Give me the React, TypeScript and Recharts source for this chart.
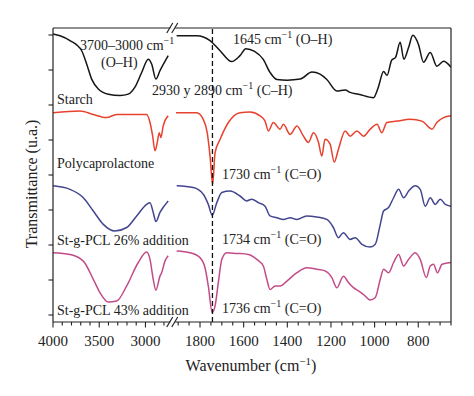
import React from 'react';
import { LineChart, Line, XAxis, YAxis, ReferenceLine } from 'recharts';

// ---------- data (wavenumber cm^-1, transmittance a.u. with vertical offsets) ----------
const starchLeft: [number, number][] = [
  [4000, 80.3], [3924, 79.8], [3816, 78.4], [3690, 75.5], [3636, 71.7], [3582, 67.4], [3510, 64.6],
  [3402, 63.1], [3276, 62.7], [3186, 63.1], [3114, 65.1], [3041, 69.3], [2970, 73.1], [2933, 71.7],
  [2887, 67.4], [2843, 69.8], [2754, 74.1],
];
const starchRight: [number, number][] = [
  [1907, 79.8], [1815, 79.8], [1754, 78.4], [1708, 75.5], [1655, 72.4], [1617, 74.1], [1590, 76.1],
  [1550, 75.3], [1511, 73.1], [1479, 69.3], [1448, 67.3], [1400, 67.1], [1341, 67.4], [1287, 69.4],
  [1250, 68.8], [1219, 67.3], [1173, 64.0], [1135, 64.3], [1112, 63.6], [1074, 63.1], [1005, 62.1],
  [983, 65.1], [959, 69.6], [943, 68.5], [922, 72.8], [904, 73.6], [883, 77.9], [866, 73.1],
  [844, 76.5], [825, 79.9], [799, 77.3], [776, 72.2], [745, 75.0], [715, 71.1], [684, 72.5], [650, 70.8],
];
const pclLeft: [number, number][] = [
  [4000, 57.8], [3708, 58.3], [3564, 57.3], [3420, 56.4], [3311, 57.3], [2987, 57.3], [2951, 55.0],
  [2922, 51.1], [2897, 46.9], [2872, 49.3], [2851, 52.1], [2833, 50.7], [2808, 54.0], [2754, 56.9],
];
const pclRight: [number, number][] = [
  [1910, 57.8], [1815, 57.8], [1785, 55.9], [1767, 52.1], [1754, 45.4], [1742, 37.3], [1731, 46.4],
  [1708, 50.2], [1670, 55.0], [1617, 57.8], [1571, 58.0], [1525, 56.9], [1502, 55.4], [1487, 52.6],
  [1464, 55.0], [1433, 53.1], [1418, 54.5], [1387, 51.6], [1356, 54.0], [1326, 51.1], [1303, 49.3],
  [1280, 52.1], [1257, 49.3], [1242, 45.4], [1227, 50.2], [1204, 48.8], [1185, 43.7], [1166, 47.3],
  [1135, 52.6], [1112, 51.1], [1081, 52.6], [1051, 51.1], [1020, 53.1], [989, 54.5], [967, 52.1],
  [944, 55.0], [898, 55.4], [837, 55.9], [783, 55.4], [737, 53.1], [715, 55.0], [684, 56.4], [650, 56.9],
];
const pcl26Left: [number, number][] = [
  [4000, 36.9], [3816, 35.9], [3672, 33.5], [3564, 29.7], [3456, 25.9], [3330, 24.0], [3203, 25.0],
  [3095, 28.3], [2987, 31.6], [2951, 32.1], [2916, 29.3], [2887, 26.7], [2843, 29.3], [2754, 32.6],
];
const pcl26Right: [number, number][] = [
  [1907, 36.9], [1831, 36.4], [1785, 34.5], [1762, 31.6], [1744, 28.5], [1723, 32.1], [1700, 35.0],
  [1662, 35.4], [1617, 34.0], [1586, 32.6], [1563, 33.1], [1533, 32.1], [1502, 31.1], [1479, 28.3],
  [1448, 27.8], [1418, 27.3], [1387, 27.8], [1356, 27.3], [1311, 28.3], [1265, 28.0], [1219, 27.3],
  [1189, 25.0], [1166, 22.1], [1143, 23.5], [1112, 21.6], [1089, 22.1], [1058, 20.2], [1020, 19.4],
  [997, 20.2], [974, 25.9], [959, 29.7], [936, 30.7], [913, 33.5], [890, 35.9], [867, 33.5],
  [844, 35.4], [814, 36.9], [791, 35.9], [768, 31.1], [745, 33.5], [722, 31.6], [699, 33.1],
  [676, 31.6], [650, 31.1],
];
const pcl43Left: [number, number][] = [
  [4000, 17.8], [3816, 17.3], [3672, 15.4], [3564, 10.2], [3492, 6.4], [3402, 3.7], [3311, 4.0],
  [3203, 8.3], [3078, 15.0], [2987, 18.0], [2951, 15.9], [2916, 10.2], [2887, 7.1], [2843, 11.1],
  [2825, 12.1], [2789, 15.4], [2754, 16.9],
];
const pcl43Right: [number, number][] = [
  [1907, 18.3], [1846, 17.8], [1800, 16.4], [1777, 13.5], [1762, 8.3], [1744, 0.7], [1731, 2.6],
  [1716, 9.3], [1700, 15.9], [1678, 17.8], [1632, 17.6], [1578, 17.3], [1540, 15.9], [1510, 14.0],
  [1494, 10.2], [1479, 7.3], [1456, 8.3], [1433, 8.3], [1402, 9.7], [1356, 12.1], [1311, 13.5],
  [1265, 13.1], [1227, 12.6], [1196, 10.7], [1173, 7.8], [1143, 11.1], [1120, 9.3], [1097, 7.8],
  [1074, 6.9], [1043, 5.4], [1020, 4.3], [997, 5.0], [974, 10.2], [959, 13.1], [936, 12.1],
  [913, 15.0], [890, 17.3], [867, 14.0], [844, 15.9], [814, 17.8], [791, 15.9], [763, 10.7],
  [745, 14.0], [730, 14.5], [712, 12.1], [691, 14.5], [650, 15.0],
];

const xMajorTicks = [4000, 3500, 3000, 1800, 1600, 1400, 1200, 1000, 800];
const xMinorTicks = [
  3900, 3800, 3700, 3600, 3400, 3300, 3200, 3100, 2900, 2800,
  1900, 1850, 1750, 1700, 1650, 1550, 1500, 1450, 1350, 1300, 1250, 1150, 1100, 1050,
  950, 900, 850, 750, 700, 650,
];
const yTicks = [0, 10, 20, 30, 40, 50, 60, 70, 80];
const carbonylLine = 1743;

// ---------- broken-axis layout ----------
const W = 474, H = 396;
const MARGIN = { top: 28, right: 23, bottom: 73, left: 52 };
const PLOT_L = 53, PLOT_R = 451, PLOT_T = 28, PLOT_B = 322;
const LEFT_FROM = 4000, LEFT_TO = 2740, RIGHT_FROM = 1910, RIGHT_TO = 650;
const LEFT_SPAN = 116.5, GAP = 6.5, RIGHT_SPAN = 275;
const U_MAX = LEFT_SPAN + GAP + RIGHT_SPAN;

const toU = (w: number) =>
  w > 2300
    ? ((LEFT_FROM - w) / (LEFT_FROM - LEFT_TO)) * LEFT_SPAN
    : LEFT_SPAN + GAP + ((RIGHT_FROM - w) / (RIGHT_FROM - RIGHT_TO)) * RIGHT_SPAN;

const seg = (arr: [number, number][]) => arr.map(([w, t]) => ({ u: toU(w), t }));

const FONT = '"Liberation Serif", "Times New Roman", serif';
const TXT = '#222';

const labelMap = new Map<string, number>();
xMajorTicks.forEach((w) => labelMap.set(toU(w).toFixed(3), w));
const allTicks = [...xMajorTicks, ...xMinorTicks].map(toU).sort((a, b) => a - b);

const XTick = (props: any) => {
  const { x, y, payload } = props;
  const lab = labelMap.get(Number(payload.value).toFixed(3));
  return (
    <g>
      <line x1={x} x2={x} y1={y} y2={y + (lab !== undefined ? 5.5 : 3.5)} stroke={TXT} strokeWidth={1.1} />
      {lab !== undefined && (
        <text x={x} y={y + 24} textAnchor="middle" fontFamily={FONT} fontSize={15} fill={TXT}>
          {lab}
        </text>
      )}
    </g>
  );
};

const YTick = (props: any) => {
  const { x, y } = props;
  return <line x1={x - 4.5} x2={x} y1={y} y2={y} stroke={TXT} strokeWidth={1.1} />;
};

const series = [
  { name: 'starch', left: starchLeft, right: starchRight, color: '#151515' },
  { name: 'pcl', left: pclLeft, right: pclRight, color: '#e8412e' },
  { name: 'pcl26', left: pcl26Left, right: pcl26Right, color: '#43468f' },
  { name: 'pcl43', left: pcl43Left, right: pcl43Right, color: '#c24c88' },
];

const Sup = ({ d = 6 }: { d?: number }) => (
  <tspan dy={-d} fontSize={10}>−1</tspan>
);

const Ann = ({ x, y, pre, post }: { x: number; y: number; pre: string; post?: string }) => (
  <text x={x} y={y} fontFamily={FONT} fontSize={14} fill={TXT} style={{ whiteSpace: 'pre' }}>
    {pre}
    <Sup />
    {post !== undefined && <tspan dy={6}>{post}</tspan>}
  </text>
);

const breakX = PLOT_L + LEFT_SPAN + GAP / 2;

export default function App() {
  return (
    <div style={{ position: 'absolute', left: 0, top: 0, width: W, height: H, background: '#fff' }}>
      <LineChart width={W} height={H} margin={MARGIN}>
        <XAxis
          type="number"
          dataKey="u"
          domain={[0, U_MAX]}
          allowDataOverflow
          ticks={allTicks}
          interval={0}
          tick={<XTick />}
          tickLine={false}
          tickSize={0}
          tickMargin={0}
          height={1}
          axisLine={{ stroke: TXT, strokeWidth: 1.2 }}
        />
        <YAxis
          type="number"
          domain={[-2, 82]}
          ticks={yTicks}
          interval={0}
          tick={<YTick />}
          tickLine={false}
          tickSize={0}
          tickMargin={0}
          width={1}
          axisLine={{ stroke: TXT, strokeWidth: 1.2 }}
        />
        {series.map((s) => (
          <Line
            key={s.name + 'L'}
            data={seg(s.left)}
            dataKey="t"
            type="monotone"
            stroke={s.color}
            strokeWidth={1.5}
            dot={false}
            isAnimationActive={false}
          />
        ))}
        {series.map((s) => (
          <Line
            key={s.name + 'R'}
            data={seg(s.right)}
            dataKey="t"
            type="monotone"
            stroke={s.color}
            strokeWidth={1.5}
            dot={false}
            isAnimationActive={false}
          />
        ))}
        <ReferenceLine x={toU(carbonylLine)} stroke="#111" strokeWidth={1.3} strokeDasharray="5 3" />
      </LineChart>
      <svg
        width={W}
        height={H}
        style={{ position: 'absolute', left: 0, top: 0, pointerEvents: 'none' }}
      >
        {/* frame top & right */}
        <line x1={PLOT_L} x2={PLOT_R} y1={PLOT_T} y2={PLOT_T} stroke={TXT} strokeWidth={1.2} />
        <line x1={PLOT_R} x2={PLOT_R} y1={PLOT_T} y2={PLOT_B} stroke={TXT} strokeWidth={1.2} />
        {/* axis breaks */}
        {[PLOT_T, PLOT_B].map((yy) => (
          <g key={yy}>
            <rect x={breakX - 2.5} y={yy - 2} width={5} height={4} fill="#fff" />
            <line x1={breakX - 6} y1={yy + 5} x2={breakX} y2={yy - 5} stroke={TXT} strokeWidth={1.2} />
            <line x1={breakX - 1} y1={yy + 5} x2={breakX + 5} y2={yy - 5} stroke={TXT} strokeWidth={1.2} />
          </g>
        ))}
        {/* annotations */}
        <Ann x={80} y={50} pre="3700–3000 cm" />
        <text x={101} y={67} fontFamily={FONT} fontSize={14} fill={TXT}>(O–H)</text>
        <Ann x={152} y={95} pre="2930 y 2890 cm" post=" (C–H)" />
        <Ann x={233} y={44} pre="1645 cm" post=" (O–H)" />
        <text x={57} y={104} fontFamily={FONT} fontSize={14} fill={TXT}>Starch</text>
        <text x={57} y={168} fontFamily={FONT} fontSize={14} fill={TXT}>Polycaprolactone</text>
        <Ann x={222} y={179} pre="1730 cm" post=" (C=O)" />
        <text x={57} y={245} fontFamily={FONT} fontSize={14} fill={TXT}>St-g-PCL 26% addition</text>
        <Ann x={222} y={244} pre="1734 cm" post=" (C=O)" />
        <text x={57} y={315} fontFamily={FONT} fontSize={14} fill={TXT}>St-g-PCL 43% addition</text>
        <Ann x={222} y={313} pre="1736 cm" post=" (C=O)" />
        {/* axis titles */}
        <text x={251} y={371} textAnchor="middle" fontFamily={FONT} fontSize={16} fill={TXT} style={{ whiteSpace: 'pre' }}>
          Wavenumber (cm<tspan dy={-6} fontSize={11}>−1</tspan><tspan dy={6}>)</tspan>
        </text>
        <text
          x={31}
          y={184}
          transform="rotate(-90 31 184)"
          textAnchor="middle"
          dominantBaseline="central"
          fontFamily={FONT}
          fontSize={16}
          fill={TXT}
        >
          Transmittance (u.a.)
        </text>
      </svg>
    </div>
  );
}
